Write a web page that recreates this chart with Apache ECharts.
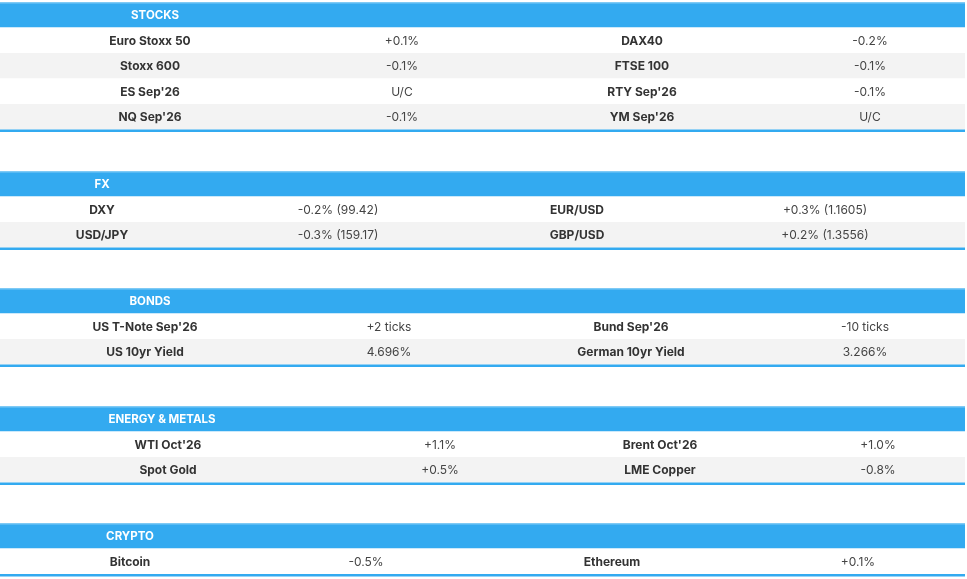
<!DOCTYPE html>
<html><head><meta charset="utf-8">
<script src="https://cdn.jsdelivr.net/npm/echarts@6/dist/echarts.min.js"></script>
<style>html,body{margin:0;padding:0;background:#fff}#c{width:967px;height:579px}</style>
</head><body><div id="c"></div>
<script>
var sectionTitles = ['STOCKS','FX','BONDS','ENERGY & METALS','CRYPTO'];
var stocksRows = [['Euro Stoxx 50','+0.1%','DAX40','-0.2%'],['Stoxx 600','-0.1%','FTSE 100','-0.1%'],['ES Sep\'26','U/C','RTY Sep\'26','-0.1%'],['NQ Sep\'26','-0.1%','YM Sep\'26','U/C']];
var fxRows = [['DXY','-0.2% (99.42)','EUR/USD','+0.3% (1.1605)'],['USD/JPY','-0.3% (159.17)','GBP/USD','+0.2% (1.3556)']];
var bondsRows = [['US T-Note Sep\'26','+2 ticks','Bund Sep\'26','-10 ticks'],['US 10yr Yield','4.696%','German 10yr Yield','3.266%']];
var energyRows = [['WTI Oct\'26','+1.1%','Brent Oct\'26','+1.0%'],['Spot Gold','+0.5%','LME Copper','-0.8%']];
var cryptoRows = [['Bitcoin','-0.5%','Ethereum','+0.1%']];
var allRows = [stocksRows, fxRows, bondsRows, energyRows, cryptoRows];

// layout
var tops = [2,171,288,406,523];
var colX = [[150,402,642,870],[102,338,577,825],[145,389,631,865],[168,440,660,878],[130,366,612,858]];
var headX = [155,102,150,162,130];
var H = 25.5, W = 965;
var els = [];
allRows.forEach(function(rows, s){
  var y = tops[s];
  els.push({type:'rect',shape:{x:0,y:y,width:W,height:H},style:{fill:'#33aaf0'}});
  els.push({type:'rect',shape:{x:0,y:y,width:W,height:1.5},style:{fill:'#7fcaf5'}});
  els.push({type:'text',x:headX[s],y:y+H/2+1,style:{text:sectionTitles[s],fill:'#fff',font:'bold 11.5px Inter, Roboto, sans-serif',align:'center',verticalAlign:'middle'}});
  rows.forEach(function(r,i){
    var ry = y + H*(i+1);
    els.push({type:'rect',shape:{x:0,y:ry,width:W,height:H},style:{fill: i%2? '#f3f3f3':'#fff'}});
    r.forEach(function(t,c){
      els.push({type:'text',x:colX[s][c],y:ry+H/2+1,style:{text:t,fill: c%2? '#444':'#333',font:(c%2?'':'bold ')+'12px Inter, Roboto, sans-serif',align:'center',verticalAlign:'middle'}});
    });
  });
  var by = y + H*(rows.length+1);
  els.push({type:'rect',shape:{x:0,y:by,width:W,height:2.5},style:{fill:'#33aaf0'}});
});
var chart = echarts.init(document.getElementById('c'));
chart.setOption({graphic:{elements:els}});
</script></body></html>
